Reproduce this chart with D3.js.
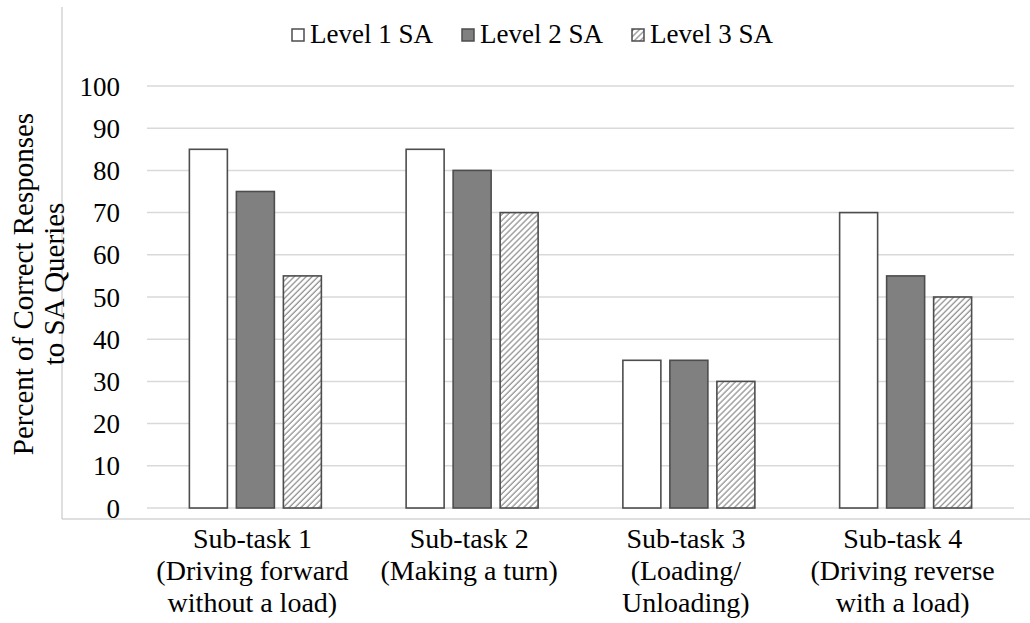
<!DOCTYPE html>
<html>
<head>
<meta charset="utf-8">
<script src="https://cdn.jsdelivr.net/npm/d3@7"></script>
<style>
  html, body { margin: 0; padding: 0; background: #fff; }
  svg { display: block; }
</style>
</head>
<body>
<svg id="chart" width="1030" height="623"></svg>
<script>
const categories = ["Sub-task 1", "Sub-task 2", "Sub-task 3", "Sub-task 4"];
const categoryLines = [
  ["Sub-task 1", "(Driving forward", "without a load)"],
  ["Sub-task 2", "(Making a turn)"],
  ["Sub-task 3", "(Loading/", "Unloading)"],
  ["Sub-task 4", "(Driving reverse", "with a load)"]
];
const seriesNames = ["Level 1 SA", "Level 2 SA", "Level 3 SA"];
const level1 = [85, 85, 35, 70];
const level2 = [75, 80, 35, 55];
const level3 = [55, 70, 30, 50];
const yTicks = [0, 10, 20, 30, 40, 50, 60, 70, 80, 90, 100];
const yLabelLines = ["Percent of Correct Responses", "to SA Queries"];

const seriesValues = [level1, level2, level3];
const fills = ["#ffffff", "#808080", "url(#hatch)"];
const FONT = '"Liberation Serif"';

const svg = d3.select("#chart");
const defs = svg.append("defs");
const pat = defs.append("pattern")
  .attr("id", "hatch")
  .attr("patternUnits", "userSpaceOnUse")
  .attr("width", 4.2).attr("height", 4.2)
  .attr("patternTransform", "rotate(45)");
pat.append("rect").attr("width", 4.2).attr("height", 4.2).attr("fill", "#fff");
pat.append("line").attr("x1", 1).attr("y1", 0).attr("x2", 1).attr("y2", 4.2)
  .attr("stroke", "#8a8a8a").attr("stroke-width", 1.2);

const plotLeft = 147, plotRight = 1014, plotTop = 86, plotBottom = 508;

const y = d3.scaleLinear().domain([0, 100]).range([plotBottom, plotTop]);
const x0 = d3.scaleBand().domain(categories).range([plotLeft, plotRight])
  .paddingInner(0.391).paddingOuter(0.1955);
const x1 = d3.scaleBand().domain(seriesNames).range([0, x0.bandwidth()])
  .paddingInner(0.1915).paddingOuter(0);

// outer frame
svg.append("line").attr("x1", 62).attr("x2", 62).attr("y1", 7).attr("y2", 519)
  .attr("stroke", "#bfbfbf").attr("stroke-width", 1);
svg.append("line").attr("x1", 62).attr("x2", 1030).attr("y1", 519).attr("y2", 519)
  .attr("stroke", "#bfbfbf").attr("stroke-width", 1);

// gridlines
svg.append("g").selectAll("line").data(yTicks).join("line")
  .attr("x1", plotLeft).attr("x2", plotRight)
  .attr("y1", d => y(d)).attr("y2", d => y(d))
  .attr("stroke", "#d9d9d9").attr("stroke-width", 1.5);

// y axis labels
const yAxis = d3.axisLeft(y).tickValues(yTicks).tickSize(0).tickPadding(0);
const gy = svg.append("g").attr("transform", "translate(120,0)").call(yAxis);
gy.attr("font-family", "Liberation Serif").attr("font-size", 27);
gy.select(".domain").remove();
gy.selectAll("text").attr("font-family", "Liberation Serif").style("font-family", FONT)
  .style("font-size", "27px").attr("fill", "#000").attr("dy", "0.34em");

// bars
const groups = svg.append("g").selectAll("g").data(categories).join("g")
  .attr("transform", d => `translate(${x0(d)},0)`);
groups.selectAll("rect")
  .data((c, i) => seriesNames.map((s, j) => ({ s, j, v: seriesValues[j][i] })))
  .join("rect")
  .attr("x", d => x1(d.s))
  .attr("width", x1.bandwidth())
  .attr("y", d => y(d.v))
  .attr("height", d => y(0) - y(d.v))
  .attr("fill", d => fills[d.j])
  .attr("stroke", "#4d4d4d").attr("stroke-width", 1.6);

// category labels
const lab = svg.append("g").selectAll("text").data(categories).join("text")
  .attr("text-anchor", "middle")
  .attr("font-family", "Liberation Serif")
  .style("font-family", FONT).style("font-size", "28px");
lab.each(function(c, i) {
  const t = d3.select(this);
  categoryLines[i].forEach((ln, k) => {
    t.append("tspan").attr("x", x0(c) + x0.bandwidth() / 2 - 3)
      .attr("y", 548 + k * 32).text(ln);
  });
});

// y axis title
const yt = svg.append("text").attr("transform", "translate(0,284) rotate(-90)")
  .attr("text-anchor", "middle")
  .attr("font-family", "Liberation Serif")
  .style("font-family", FONT).style("font-size", "29px");
yLabelLines.forEach((ln, k) => {
  yt.append("tspan").attr("x", 0).attr("y", 33 + k * 31).text(ln);
});

// legend
const leg = svg.append("g").selectAll("g").data(seriesNames).join("g")
  .attr("transform", (d, i) => `translate(${292 + i * 170},0)`);
leg.append("rect").attr("x", 0).attr("y", 29).attr("width", 12).attr("height", 12)
  .attr("fill", (d, i) => fills[i]).attr("stroke", "#4d4d4d").attr("stroke-width", 1.5);
leg.append("text").attr("x", 18).attr("y", 43)
  .attr("font-family", "Liberation Serif")
  .style("font-family", FONT).style("font-size", "27px").text(d => d);
</script>
</body>
</html>
